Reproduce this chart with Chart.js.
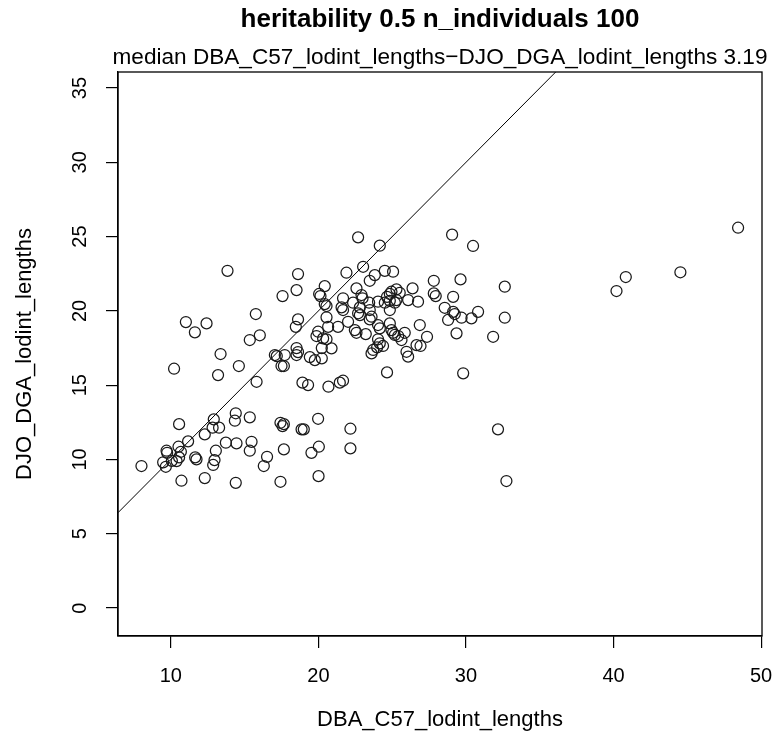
<!DOCTYPE html>
<html>
<head>
<meta charset="utf-8">
<script src="https://cdn.jsdelivr.net/npm/chart.js@4.4.1/dist/chart.umd.min.js"></script>
<style>
  html, body { margin: 0; padding: 0; background: #ffffff; }
  #wrap { width: 778px; height: 751px; }
</style>
</head>
<body>
<div id="wrap"><canvas id="c" width="778" height="751"></canvas></div>
<script>
// ---- data ----
const mainTitle = "heritability 0.5 n_individuals 100";
const subTitle = "median DBA_C57_lodint_lengths\u2212DJO_DGA_lodint_lengths 3.19";
const xLabel = "DBA_C57_lodint_lengths";
const yLabel = "DJO_DGA_lodint_lengths";

const xTicks = [10, 20, 30, 40, 50];
const yTicks = [0, 5, 10, 15, 20, 25, 30, 35];

const dbaLengths = [
  10.56, 12.91, 12.83, 13.27, 14.40, 14.34, 12.30, 11.17, 10.52, 9.71,
  9.75, 10.68, 10.56, 10.39, 10.07, 9.48, 9.66, 11.65, 11.74, 13.05,
  12.96, 12.87, 13.73, 14.45, 8.01, 10.72, 12.30, 14.40, 15.81, 18.92,
  19.30, 20.68, 21.45, 21.67, 15.35, 17.43, 17.57, 17.66, 18.86, 19.01,
  19.98, 22.17, 15.47, 15.35, 16.52, 16.30, 17.66, 19.53, 20.03, 22.17,
  17.43, 20.01, 13.84, 11.02, 11.63, 12.42, 15.76, 17.57, 18.52, 18.62,
  18.62, 18.47, 15.35, 16.03, 13.37, 10.22, 13.20, 14.61, 17.05, 17.18,
  17.72, 18.52, 18.62, 18.52, 17.50, 17.66, 22.69, 24.16, 20.43, 20.05,
  20.14, 21.90, 23.03, 23.82, 23.48, 24.50, 25.06, 22.58, 21.67, 20.43,
  20.55, 21.57, 21.67, 22.35, 22.92, 22.99, 22.81, 23.44, 23.48, 24.04,
  24.50, 24.84, 24.65, 24.95, 24.84, 25.29, 25.51, 26.38, 26.08, 25.18,
  25.29, 24.84, 26.75, 22.81, 22.69, 23.60, 23.48, 20.55, 21.33, 20.66,
  22.01, 22.47, 22.58, 23.21, 24.04, 24.16, 24.84, 24.95, 25.18, 25.41,
  25.06, 25.85, 24.04, 24.16, 24.38, 23.71, 23.98, 23.60, 25.97, 26.08,
  26.65, 19.98, 19.87, 20.32, 20.55, 20.23, 20.89, 19.42, 19.76, 20.23,
  29.06, 30.48, 27.82, 29.63, 32.63, 27.82, 27.95, 29.13, 28.56, 29.13,
  29.24, 29.70, 28.79, 30.37, 30.82, 32.63, 26.87, 29.36, 31.84, 25.63,
  27.36, 26.92, 29.81, 48.44, 44.53, 40.83, 40.20, 32.17, 32.74, 24.65
];
const djoLengths = [
  12.38, 12.70, 12.14, 12.14, 13.11, 12.61, 11.69, 11.22, 10.86, 10.59,
  10.45, 10.52, 10.14, 9.89, 9.91, 9.81, 9.51, 10.14, 10.01, 10.59,
  9.96, 9.63, 11.13, 11.09, 9.56, 8.57, 8.75, 8.43, 15.23, 15.17,
  15.01, 14.90, 15.17, 15.30, 12.84, 12.47, 12.25, 12.38, 12.03, 12.03,
  12.74, 12.07, 11.19, 10.59, 10.18, 9.56, 10.68, 10.45, 10.86, 10.75,
  8.50, 8.88, 22.70, 19.25, 18.56, 19.16, 19.79, 21.00, 21.40, 22.48,
  19.43, 18.93, 18.04, 18.36, 17.10, 16.11, 15.68, 16.29, 17.03, 16.96,
  17.03, 17.50, 17.23, 17.03, 16.29, 16.29, 24.95, 24.39, 21.67, 21.14,
  21.00, 22.57, 22.97, 22.41, 22.03, 22.70, 22.64, 21.52, 20.85, 20.46,
  20.33, 20.24, 20.06, 20.55, 21.07, 20.85, 20.24, 20.55, 20.06, 20.62,
  20.55, 20.68, 20.95, 21.29, 21.14, 21.45, 21.22, 21.52, 20.73, 20.55,
  20.73, 20.06, 20.62, 19.72, 19.84, 19.61, 19.43, 19.57, 18.93, 18.93,
  19.27, 18.71, 18.53, 18.44, 19.05, 18.83, 19.16, 18.71, 18.38, 18.31,
  18.53, 18.53, 18.09, 17.82, 17.64, 17.37, 17.55, 17.14, 17.25, 16.92,
  17.70, 18.60, 18.31, 18.15, 18.09, 17.50, 17.48, 16.89, 16.69, 16.81,
  25.13, 24.37, 22.03, 22.12, 21.63, 21.18, 21.00, 20.95, 20.21, 19.94,
  19.79, 19.54, 19.39, 19.50, 19.94, 19.54, 19.05, 18.49, 18.26, 18.04,
  18.26, 17.64, 15.80, 25.60, 22.60, 22.28, 21.34, 12.03, 8.55, 15.86
];

// axis limits (R-style 4% padding on x, equal aspect on y)
const xLimits = [6.42, 50.06];
const yLimits = [-1.88, 36.08];

// ---- build chart ----
const points = dbaLengths.map((v, i) => ({ x: v, y: djoLengths[i] }));
const FONT = '"Liberation Sans", Arial, sans-serif';

const boxAndTitles = {
  id: 'boxAndTitles',
  afterDraw(chart) {
    const { ctx, chartArea: a } = chart;
    ctx.save();
    ctx.strokeStyle = '#000';
    ctx.lineWidth = 1.3;
    ctx.strokeRect(a.left, a.top, a.right - a.left, a.bottom - a.top);
    const cx = (a.left + a.right) / 2;
    ctx.fillStyle = '#000';
    ctx.textAlign = 'center';
    ctx.textBaseline = 'middle';
    ctx.font = 'bold 26px ' + FONT;
    ctx.fillText(mainTitle, cx, 20);
    ctx.font = '22.6px ' + FONT;
    ctx.fillText(subTitle, cx, 58);
    ctx.restore();
  }
};

new Chart(document.getElementById('c'), {
  data: {
    datasets: [
      {
        type: 'scatter',
        data: points,
        pointStyle: 'circle',
        pointRadius: 5.5,
        pointHoverRadius: 5.5,
        pointBorderWidth: 1.25,
        borderColor: '#1a1a1a',
        backgroundColor: 'rgba(0,0,0,0)'
      },
      {
        type: 'line',
        data: [{ x: xLimits[0], y: xLimits[0] }, { x: yLimits[1], y: yLimits[1] }],
        borderColor: '#000',
        borderWidth: 1,
        pointRadius: 0,
        fill: false
      }
    ]
  },
  options: {
    responsive: false,
    animation: false,
    devicePixelRatio: 1,
    layout: { padding: { left: 0, right: 16, top: 72, bottom: 0 } },
    plugins: { legend: { display: false }, tooltip: { enabled: false }, title: { display: false } },
    scales: {
      x: {
        type: 'linear',
        position: 'bottom',
        min: xLimits[0],
        max: xLimits[1],
        afterBuildTicks: s => { s.ticks = xTicks.map(v => ({ value: v })); },
        afterFit: s => { s.height = 751 - 636; s.paddingLeft = 0; s.paddingRight = 0; },
        grid: { display: true, drawOnChartArea: false, drawTicks: true, tickLength: 12, color: '#000', lineWidth: 1.2 },
        border: { display: true, color: '#000', width: 1.3 },
        ticks: { color: '#000', font: { size: 20, family: FONT }, padding: 16, maxRotation: 0, autoSkip: false },
        title: { display: true, text: xLabel, color: '#000', font: { size: 22, family: FONT }, padding: { top: 0, bottom: 18 } }
      },
      y: {
        type: 'linear',
        position: 'left',
        min: yLimits[0],
        max: yLimits[1],
        afterBuildTicks: s => { s.ticks = yTicks.map(v => ({ value: v })); },
        afterFit: s => { s.width = 118; s.paddingTop = 0; s.paddingBottom = 0; },
        grid: { display: true, drawOnChartArea: false, drawTicks: true, tickLength: 12, color: '#000', lineWidth: 1.2 },
        border: { display: true, color: '#000', width: 1.3 },
        ticks: { color: '#000', font: { size: 20, family: FONT }, padding: 14, minRotation: 90, maxRotation: 90, crossAlign: 'center', autoSkip: false },
        title: { display: true, text: yLabel, color: '#000', font: { size: 22, family: FONT }, padding: { top: 12, bottom: 0 } }
      }
    }
  },
  plugins: [boxAndTitles]
});
</script>
</body>
</html>
